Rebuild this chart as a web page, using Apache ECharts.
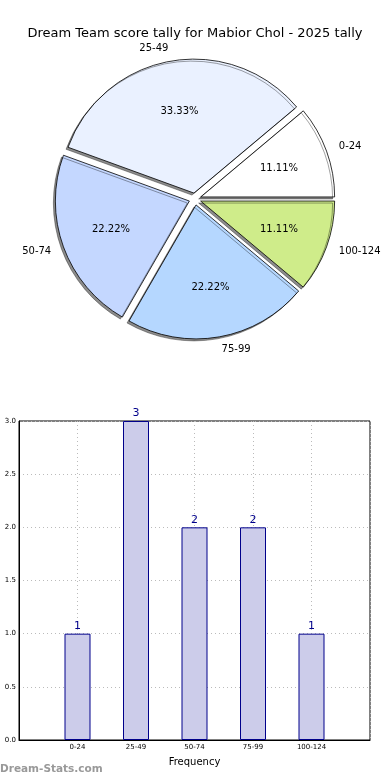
<!DOCTYPE html>
<html>
<head>
<meta charset="utf-8">
<script src="https://cdn.jsdelivr.net/npm/echarts@6/dist/echarts.min.js"></script>
<style>
html,body{margin:0;padding:0;background:#fff;}
#c{width:390px;height:780px;}
</style>
</head>
<body>
<div id="c"></div>
<script>
const titleText = 'Dream Team score tally for Mabior Chol - 2025 tally';
const categories = ['0-24', '25-49', '50-74', '75-99', '100-124'];
const counts = [1, 3, 2, 2, 1];
const sliceColors = ['#ffffff', '#eaf1ff', '#c4d7ff', '#b5d7ff', '#cfec8a'];
const yTicks = [0, 0.5, 1.0, 1.5, 2.0, 2.5, 3.0];
const xAxisName = 'Frequency';
const watermark = 'Dream-Stats.com';

const total = counts.reduce((a, b) => a + b, 0);
const R = 134;
const CX = 195, CY = 199;
const OFFSET = 6;
const font = 'DejaVu Sans';

const pieStyle = {
  borderColor: '#000', borderWidth: 0.8,
  shadowColor: 'rgba(0,0,0,0.45)', shadowBlur: 0, shadowOffsetX: -2, shadowOffsetY: 2
};

const pieData = categories.map((c, i) => ({
  name: c, value: counts[i], selected: true,
  itemStyle: Object.assign({color: sliceColors[i]}, pieStyle),
  select: {itemStyle: Object.assign({color: sliceColors[i]}, pieStyle)}
}));
const pctData = categories.map((c, i) => ({
  name: c, value: counts[i], selected: true
}));

const option = {
  animation: false,
  textStyle: {fontFamily: font},
  title: {
    text: titleText, left: 'center', top: 22,
    textStyle: {fontFamily: font, fontSize: 13, fontWeight: 'normal', color: '#000'}
  },
  grid: {left: 19, right: 20, top: 421, bottom: 40, show: true, borderColor: '#000', borderWidth: 1, containLabel: false},
  xAxis: {
    type: 'value', min: -1, max: 5, interval: 1,
    name: xAxisName, nameLocation: 'middle', nameGap: 17,
    nameTextStyle: {fontSize: 10, color: '#000', fontFamily: font},
    axisLine: {show: true, onZero: false, lineStyle: {color: '#000'}},
    axisTick: {show: false},
    axisLabel: {fontSize: 7, color: '#000', margin: 4,
      formatter: v => (v >= 0 && v < categories.length && Number.isInteger(v)) ? categories[v] : ''},
    splitLine: {show: true, lineStyle: {color: '#bbb', type: [1, 3], width: 1}}
  },
  yAxis: {
    type: 'value', min: 0, max: 3, interval: 0.5,
    axisLine: {show: true, onZero: false, lineStyle: {color: '#000'}},
    axisTick: {show: false},
    axisLabel: {fontSize: 7, color: '#000', margin: 3, formatter: v => yTicks.includes(v) ? v.toFixed(1) : ''},
    splitLine: {show: true, lineStyle: {color: '#bbb', type: [1, 3], width: 1}}
  },
  graphic: [{
    type: 'text', left: 0, top: 764,
    style: {text: watermark, fill: '#999', font: 'bold 10.5px "DejaVu Sans"'}
  }],
  series: [
    {
      type: 'pie', center: [CX, CY], radius: [0, R],
      startAngle: 0, clockwise: false,
      selectedMode: 'multiple', selectedOffset: OFFSET,
      avoidLabelOverlap: false,
      silent: true,
      emphasis: {disabled: true},
      label: {show: true, position: 'outside', formatter: '{b}', fontSize: 10, color: '#000', distanceToLabelLine: 0, fontFamily: font},
      labelLine: {show: false, length: Math.round(R * 0.1), length2: 0},
      data: pieData, z: 2
    },
    {
      type: 'pie', center: [CX, CY], radius: [0, R * 1.2],
      startAngle: 0, clockwise: false,
      selectedMode: 'multiple', selectedOffset: OFFSET,
      avoidLabelOverlap: false,
      silent: true,
      emphasis: {disabled: true},
      itemStyle: {color: 'rgba(0,0,0,0)', borderWidth: 0},
      select: {itemStyle: {color: 'rgba(0,0,0,0)', borderWidth: 0}},
      label: {show: true, position: 'inside', fontSize: 10, color: '#000', fontFamily: font,
        formatter: p => (p.value / total * 100).toFixed(2) + '%'},
      labelLine: {show: false},
      data: pctData, z: 3
    },
    {
      type: 'bar', barWidth: 26,
      data: counts.map((v, i) => [i, v]),
      itemStyle: {color: '#ccccea', borderColor: '#00008b', borderWidth: 1},
      label: {show: true, position: 'top', distance: 2, color: '#00008b', fontSize: 11, fontFamily: font,
        formatter: p => String(p.value[1])},
      silent: true
    }
  ]
};
const chart = echarts.init(document.getElementById('c'), null, {renderer: 'canvas'});
chart.setOption(option);
</script>
</body>
</html>
